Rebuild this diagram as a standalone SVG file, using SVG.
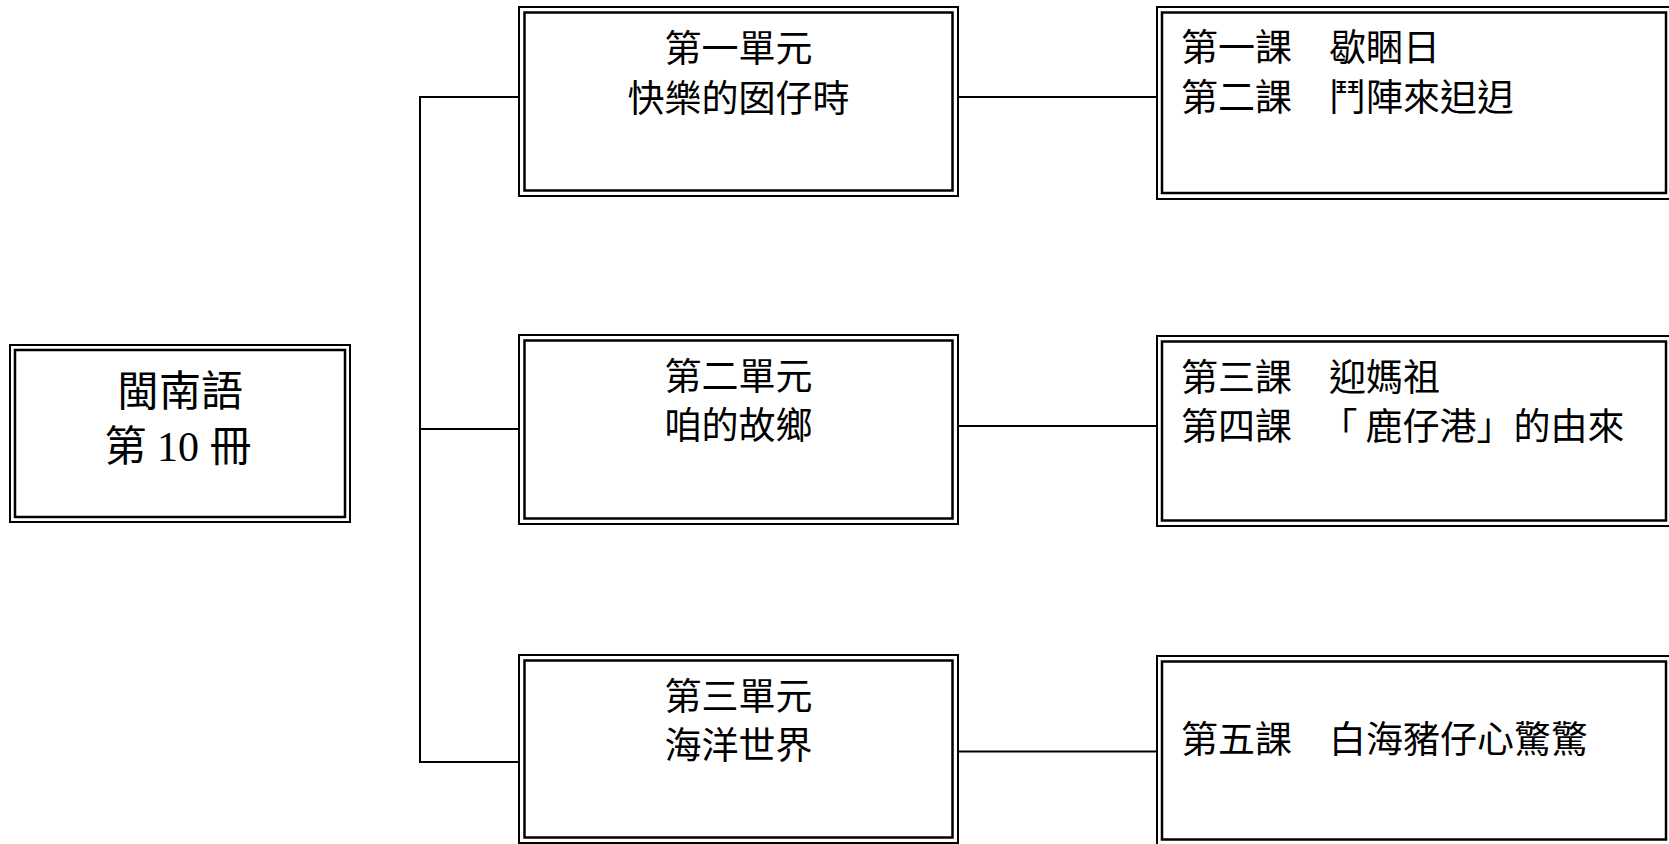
<svg xmlns="http://www.w3.org/2000/svg" width="1669" height="844" viewBox="0 0 1669 844">
<style>
.o{fill:#fff;stroke:#000;stroke-width:2}
.i{fill:none;stroke:#000;stroke-width:2.5}
.t{font-family:"Liberation Serif","Noto Sans CJK TC",serif;font-size:37px;fill:#000}
.c{text-anchor:middle}
.big{font-size:42px}
#connectors line{stroke:#000;stroke-width:2}
</style>
<rect width="1669" height="844" fill="#fff"/>
<g id="connectors">
<line x1="420" y1="96" x2="420" y2="763"/>
<line x1="419" y1="97" x2="521" y2="97"/>
<line x1="419" y1="429" x2="521" y2="429"/>
<line x1="419" y1="762" x2="521" y2="762"/>
<line x1="956" y1="97" x2="1158" y2="97"/>
<line x1="956" y1="426" x2="1158" y2="426"/>
<line x1="956" y1="751.5" x2="1158" y2="751.5"/>
</g>
<g id="root">
<rect class="o" x="10" y="345" width="340" height="177"/>
<rect class="i" x="15" y="350" width="330" height="167"/>
<text class="t c big" x="180" y="406">閩南語</text>
<text class="t c big" x="178" y="461">第 10 冊</text>
</g>
<g id="unit1">
<rect class="o" x="519" y="7" width="439" height="189"/>
<rect class="i" x="524.5" y="12.5" width="428" height="178"/>
<text class="t c" x="738.5" y="62">第一單元</text>
<text class="t c" x="738.5" y="112">快樂的囡仔時</text>
</g>
<g id="unit2">
<rect class="o" x="519" y="335" width="439" height="189"/>
<rect class="i" x="524.5" y="340.5" width="428" height="178"/>
<text class="t c" x="738.5" y="390">第二單元</text>
<text class="t c" x="738.5" y="439">咱的故鄉</text>
</g>
<g id="unit3">
<rect class="o" x="519" y="655" width="439" height="188"/>
<rect class="i" x="524.5" y="660.5" width="428" height="177"/>
<text class="t c" x="738.5" y="709.5">第三單元</text>
<text class="t c" x="738.5" y="759">海洋世界</text>
</g>
<g id="lesson1">
<rect class="o" x="1157" y="7" width="515" height="192"/>
<rect class="i" x="1162" y="12.5" width="504" height="180.5"/>
<text class="t" x="1181" y="61">第一課　歇睏日</text>
<text class="t" x="1181" y="111">第二課　鬥陣來𨑨迌</text>
</g>
<g id="lesson2">
<rect class="o" x="1157" y="336" width="515" height="190"/>
<rect class="i" x="1162" y="341.5" width="504" height="179"/>
<text class="t" x="1181" y="391">第三課　迎媽祖</text>
<text class="t" x="1181" y="440" dx="0 0 0 0 10 8">第四課　「鹿仔港」的由來</text>
</g>
<g id="lesson3">
<rect class="o" x="1157" y="656" width="515" height="190"/>
<rect class="i" x="1162" y="661.5" width="504" height="178"/>
<text class="t" x="1181" y="753">第五課　白海豬仔心驚驚</text>
</g>
</svg>
